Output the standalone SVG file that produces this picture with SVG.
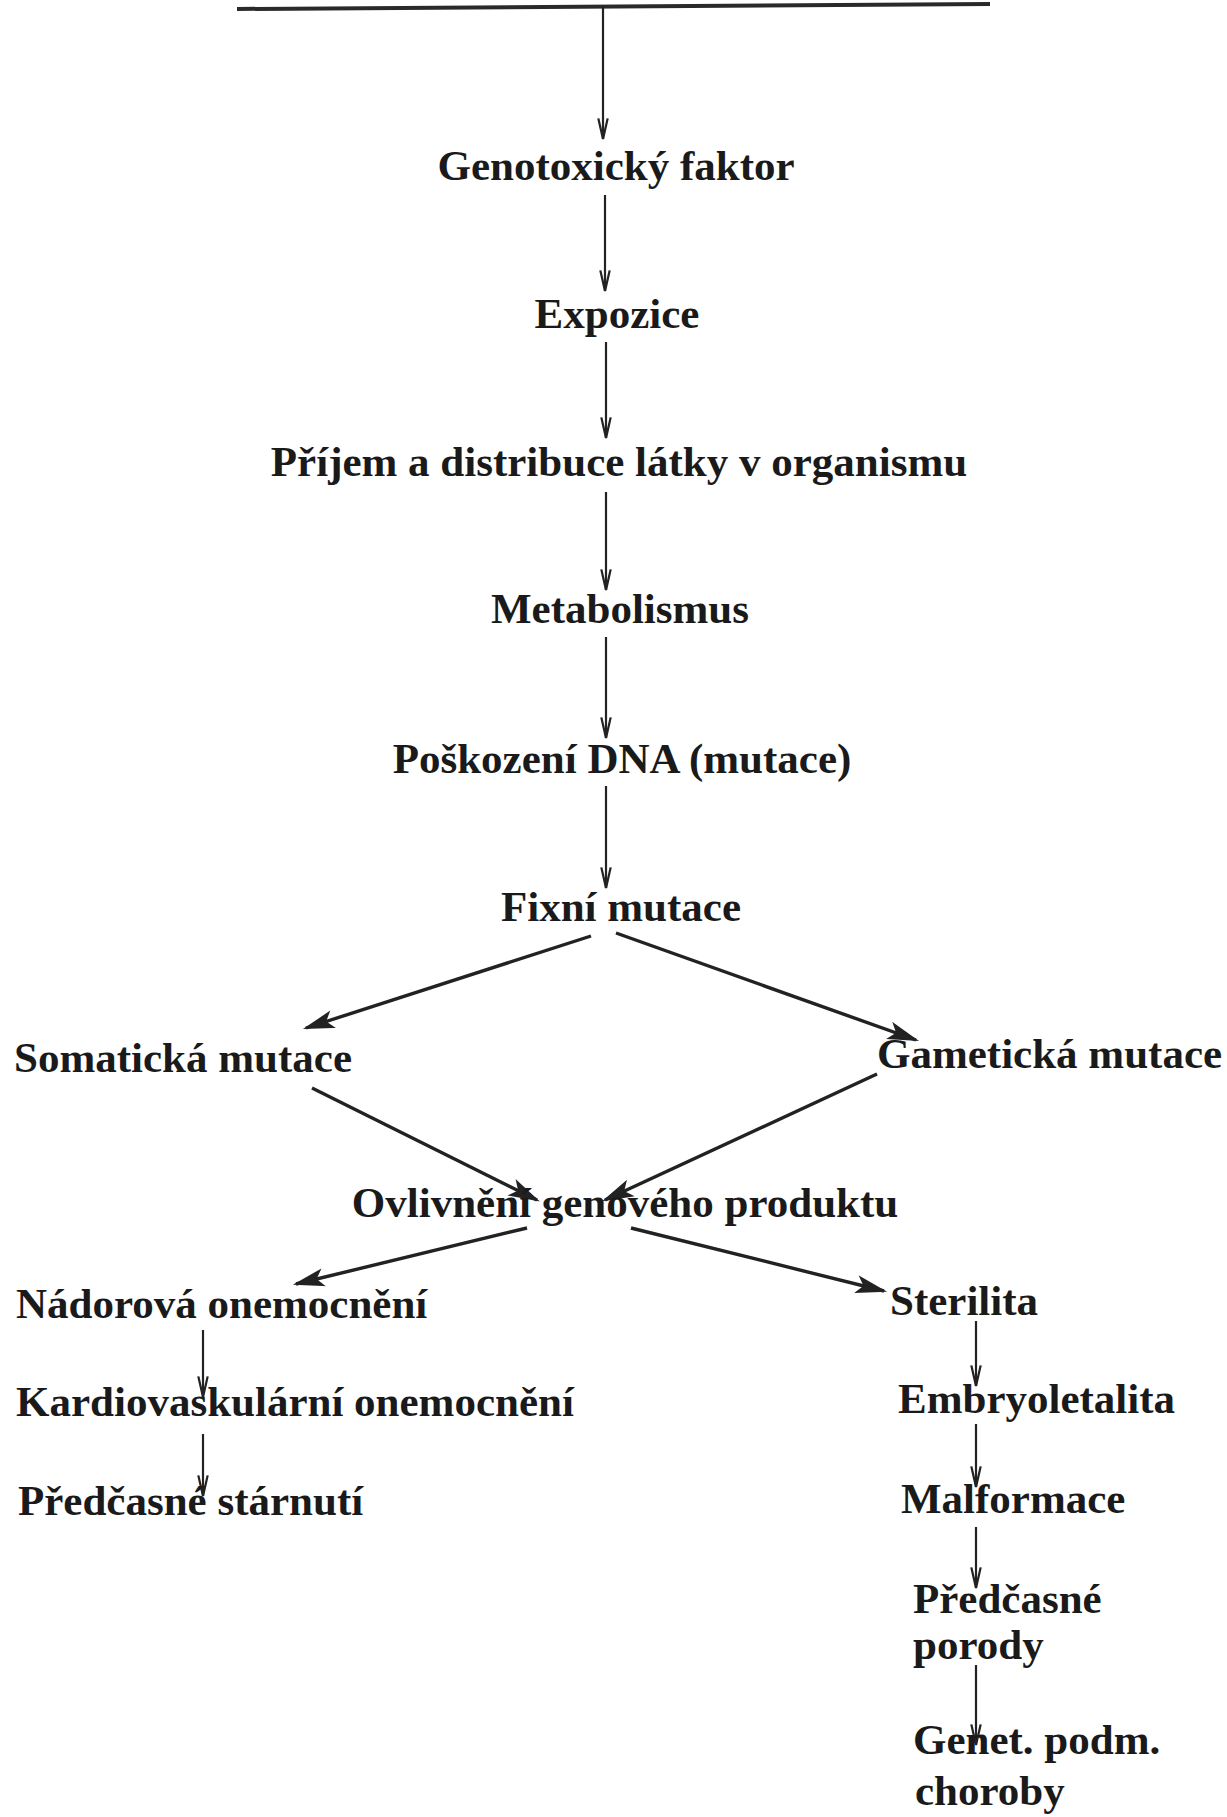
<svg xmlns="http://www.w3.org/2000/svg" width="1227" height="1817" viewBox="0 0 1227 1817">
<defs>
<style>
text{font-family:"Liberation Serif","Times New Roman",serif;font-weight:bold;font-size:43px;fill:#1a1a1a}
.c{text-anchor:middle}
.v{stroke:#222;stroke-width:2.2;fill:none}
.d{stroke:#222;stroke-width:3.4;fill:none}
</style>
<marker id="ad" markerUnits="userSpaceOnUse" markerWidth="34" markerHeight="20" viewBox="-30 -10 34 20" refX="0" refY="0" orient="auto">
<path d="M-26,-7.5 L0,0 L-26,7.5 L-20,0 Z" fill="#222" stroke="#222" stroke-width="1.8"/>
</marker>
<marker id="avh" markerUnits="userSpaceOnUse" markerWidth="30" markerHeight="20" viewBox="-28 -10 32 20" refX="0" refY="0" orient="auto">
<path d="M-22,-5 L0,0 L-22,5" fill="none" stroke="#222" stroke-width="2.4"/>
</marker>
</defs>
<rect width="1227" height="1817" fill="#ffffff"/>
<line x1="237" y1="9" x2="990" y2="4" stroke="#2a2a2a" stroke-width="4"/>
<g id="connectors">
<line class="v" x1="603" y1="6" x2="603" y2="139" marker-end="url(#avh)"/>
<line class="v" x1="605" y1="195" x2="605" y2="291" marker-end="url(#avh)"/>
<line class="v" x1="606" y1="342" x2="606" y2="438" marker-end="url(#avh)"/>
<line class="v" x1="606" y1="492" x2="606" y2="590" marker-end="url(#avh)"/>
<line class="v" x1="606" y1="637" x2="606" y2="738" marker-end="url(#avh)"/>
<line class="v" x1="606" y1="786" x2="606" y2="888" marker-end="url(#avh)"/>
<line class="d" x1="591" y1="936" x2="306" y2="1028" marker-end="url(#ad)"/>
<line class="d" x1="616" y1="933" x2="916" y2="1040" marker-end="url(#ad)"/>
<line class="d" x1="312" y1="1088" x2="537" y2="1200" marker-end="url(#ad)"/>
<line class="d" x1="877" y1="1074" x2="605" y2="1200" marker-end="url(#ad)"/>
<line class="d" x1="527" y1="1228" x2="296" y2="1284" marker-end="url(#ad)"/>
<line class="d" x1="631" y1="1228" x2="884" y2="1291" marker-end="url(#ad)"/>
<line class="v" x1="203" y1="1330" x2="203" y2="1397" marker-end="url(#avh)"/>
<line class="v" x1="203" y1="1434" x2="203" y2="1496" marker-end="url(#avh)"/>
<line class="v" x1="976" y1="1321" x2="976" y2="1386" marker-end="url(#avh)"/>
<line class="v" x1="976" y1="1424" x2="976" y2="1487" marker-end="url(#avh)"/>
<line class="v" x1="976" y1="1527" x2="976" y2="1588" marker-end="url(#avh)"/>
<line class="v" x1="976" y1="1665" x2="976" y2="1745" marker-end="url(#avh)"/>
</g>
<g id="n-genotox"><text class="c" x="616" y="180">Genotoxický faktor</text></g>
<g id="n-expozice"><text class="c" x="617" y="328">Expozice</text></g>
<g id="n-prijem"><text class="c" x="619" y="476">Příjem a distribuce látky v organismu</text></g>
<g id="n-metab"><text class="c" x="620" y="623">Metabolismus</text></g>
<g id="n-poskozeni"><text class="c" x="622" y="773">Poškození DNA (mutace)</text></g>
<g id="n-fixni"><text class="c" x="621" y="921">Fixní mutace</text></g>
<g id="n-somat"><text x="14" y="1072">Somatická mutace</text></g>
<g id="n-gamet"><text x="877" y="1068">Gametická mutace</text></g>
<g id="n-ovliv"><text class="c" x="625" y="1217">Ovlivnění genového produktu</text></g>
<g id="n-nador"><text x="16" y="1318">Nádorová onemocnění</text></g>
<g id="n-steril"><text x="890" y="1315">Sterilita</text></g>
<g id="n-kardio"><text x="16" y="1416">Kardiovaskulární onemocnění</text></g>
<g id="n-embryo"><text x="898" y="1413">Embryoletalita</text></g>
<g id="n-starnuti"><text x="18" y="1515">Předčasné stárnutí</text></g>
<g id="n-malf"><text x="901" y="1513">Malformace</text></g>
<g id="n-porody"><text x="913" y="1613">Předčasné</text><text x="913" y="1659">porody</text></g>
<g id="n-genet"><text x="913" y="1754">Genet. podm.</text><text x="915" y="1805">choroby</text></g>
</svg>
